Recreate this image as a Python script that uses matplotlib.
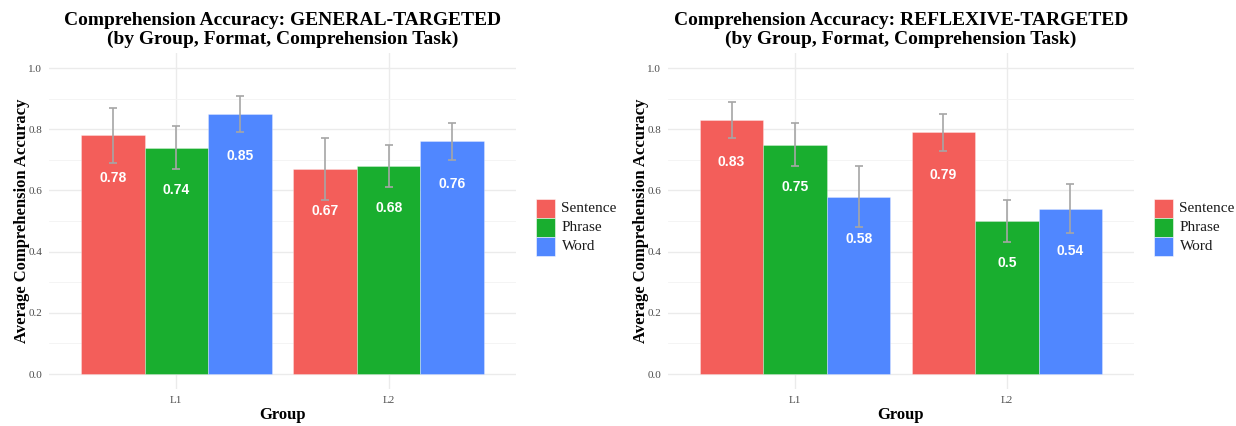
import matplotlib
matplotlib.use("Agg")
import matplotlib.pyplot as plt
from matplotlib.patches import Rectangle
from matplotlib.transforms import Bbox

groups = ["L1", "L2"]
formats = ["Sentence", "Phrase", "Word"]
colors = ["#F35E5A", "#19AE2F", "#5087FF"]

general_means = {"Sentence": [0.78, 0.67], "Phrase": [0.74, 0.68], "Word": [0.85, 0.76]}
general_lo = {"Sentence": [0.69, 0.57], "Phrase": [0.67, 0.61], "Word": [0.79, 0.70]}
general_hi = {"Sentence": [0.87, 0.77], "Phrase": [0.81, 0.75], "Word": [0.91, 0.82]}

reflexive_means = {"Sentence": [0.83, 0.79], "Phrase": [0.75, 0.50], "Word": [0.58, 0.54]}
reflexive_lo = {"Sentence": [0.77, 0.73], "Phrase": [0.68, 0.43], "Word": [0.48, 0.46]}
reflexive_hi = {"Sentence": [0.89, 0.85], "Phrase": [0.82, 0.57], "Word": [0.68, 0.62]}

titles = ["Comprehension Accuracy: GENERAL-TARGETED\n(by Group, Format, Comprehension Task)",
          "Comprehension Accuracy: REFLEXIVE-TARGETED\n(by Group, Format, Comprehension Task)"]

SERIF = "Liberation Serif"
SANS = "Liberation Sans"

W, H = 1236, 426
fig = plt.figure(figsize=(W / 100, H / 100), dpi=100)

def fx(px):
    return px / W

def fy(py):
    return 1 - py / H

panels = [
    (49, 516, general_means, general_lo, general_hi, titles[0], 0),
    (668, 1134, reflexive_means, reflexive_lo, reflexive_hi, titles[1], 618),
]

top_px, bot_px = 52.7, 389.3
width = 0.3
offsets = [-0.3, 0.0, 0.3]

for (x0, x1, means, lo, hi, title, off) in panels:
    ax = fig.add_axes([fx(x0), fy(bot_px), fx(x1 - x0), (bot_px - top_px) / H])
    ax.set_xlim(0.4, 2.6)
    ax.set_ylim(-0.05, 1.05)
    for s in ax.spines.values():
        s.set_visible(False)
    ax.set_yticks([0, 0.2, 0.4, 0.6, 0.8, 1.0])
    ax.set_yticks([0.1, 0.3, 0.5, 0.7, 0.9], minor=True)
    ax.set_yticklabels(["0.0", "0.2", "0.4", "0.6", "0.8", "1.0"])
    ax.set_xticks([1, 2])
    ax.set_xticklabels(groups)
    ax.grid(True, which="major", axis="both", color="#EBEBEB", linewidth=1.0)
    ax.grid(True, which="minor", axis="y", color="#F3F3F3", linewidth=0.6)
    ax.set_axisbelow(True)
    ax.tick_params(axis="both", which="both", length=0, labelsize=8,
                   labelcolor="#4D4D4D", pad=5)
    for lab in ax.get_xticklabels() + ax.get_yticklabels():
        lab.set_fontfamily(SERIF)

    for fi, fmt in enumerate(formats):
        xs = [g + 1 + offsets[fi] for g in range(len(groups))]
        vals = means[fmt]
        ax.bar(xs, vals, width=width, color=colors[fi], edgecolor=(1, 1, 1, 0.35),
               linewidth=0.6, zorder=2)
        yerr_lo = [v - l for v, l in zip(vals, lo[fmt])]
        yerr_hi = [h - v for v, h in zip(vals, hi[fmt])]
        ax.errorbar(xs, vals, yerr=[yerr_lo, yerr_hi], fmt="none", ecolor="#A6A6A6",
                    elinewidth=1.2, capsize=2.8, capthick=1.2, zorder=3)
        for x, v in zip(xs, vals):
            ax.annotate(f"{v:g}", (x, v), xytext=(0, -30.5), textcoords="offset points",
                        ha="center", va="center", color="white", fontsize=10,
                        fontweight="bold", fontfamily=SANS, zorder=4)

    ax.set_title(title, fontsize=14, fontweight="bold", fontfamily=SERIF,
                 pad=6, linespacing=1.15)
    ax.set_xlabel("Group", fontsize=12, fontweight="bold", fontfamily=SERIF, labelpad=1)
    ax.set_ylabel("Average Comprehension Accuracy", fontsize=12, fontweight="bold",
                  fontfamily=SERIF, labelpad=-1)

    # legend drawn manually, text clipped at panel boundary
    clip = Bbox.from_extents(off, 0, off + 618, H)
    kx = off + 535.5
    for fi, fmt in enumerate(formats):
        ky = 199 + fi * 19
        fig.add_artist(Rectangle((fx(kx), fy(ky + 19)), fx(19), 19 / H,
                                 transform=fig.transFigure, facecolor=colors[fi],
                                 edgecolor=(1, 1, 1, 0.6), linewidth=0.6))
        t = fig.text(fx(kx + 26), fy(ky + 9.5), fmt, fontsize=11, fontfamily=SERIF,
                     va="center", ha="left", color="#1A1A1A")
        t.set_clip_box(clip)
        t.set_clip_on(True)

fig.savefig("out.png", dpi=100)
